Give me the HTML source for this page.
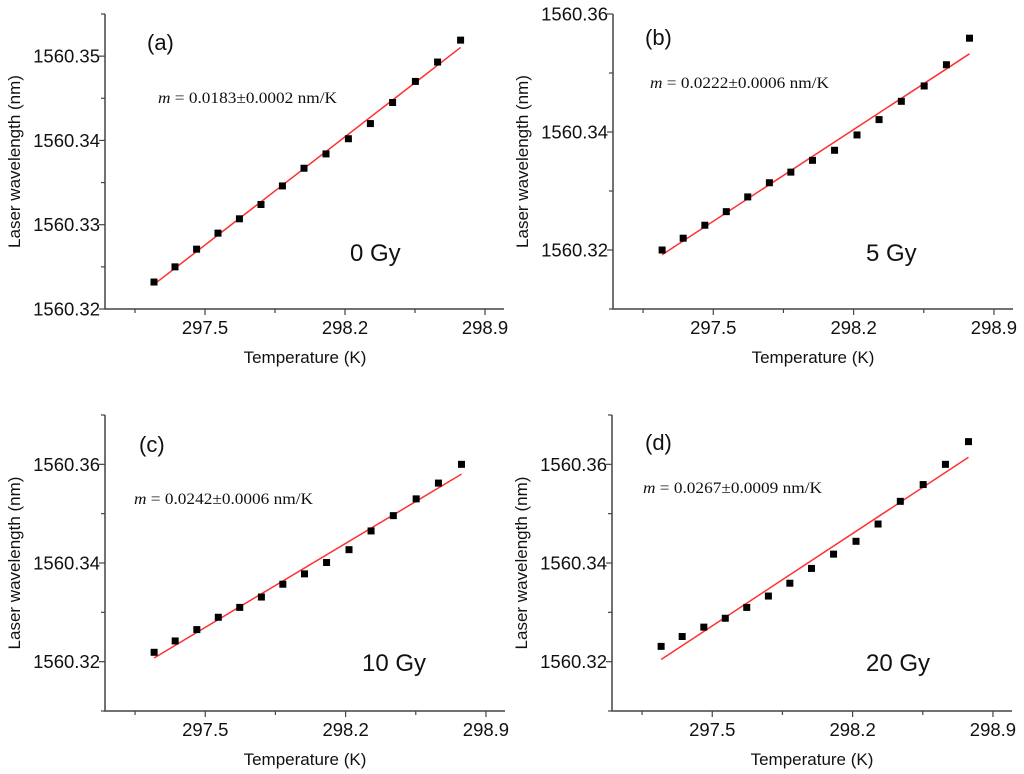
<!DOCTYPE html>
<html><head><meta charset="utf-8"><style>
html,body{margin:0;padding:0;background:#fff;}
svg{display:block;}
text{font-family:"Liberation Sans",Arial,sans-serif;fill:#111;}
.serif{font-family:"Liberation Serif","Times New Roman",serif;}
</style></head><body>
<svg id="fig" width="1024" height="774" viewBox="0 0 1024 774" xmlns="http://www.w3.org/2000/svg"></svg>
<script>
// Shared temperatures (K)
const temps = [297.245,297.35,297.458,297.565,297.672,297.78,297.887,297.995,298.105,298.217,298.327,298.438,298.552,298.663,298.778];
// Wavelength series (nm) per panel
const wlA = [1560.3232,1560.3250,1560.3271,1560.3290,1560.3307,1560.3324,1560.3346,1560.3367,1560.3384,1560.3402,1560.3420,1560.3445,1560.3470,1560.3493,1560.3519];
const wlB = [1560.3200,1560.3220,1560.3242,1560.3265,1560.3290,1560.3314,1560.3332,1560.3352,1560.3369,1560.3395,1560.3421,1560.3452,1560.3478,1560.3514,1560.3559];
const wlC = [1560.3219,1560.3242,1560.3265,1560.3290,1560.3310,1560.3331,1560.3357,1560.3378,1560.3401,1560.3427,1560.3465,1560.3496,1560.3530,1560.3562,1560.3600];
const wlD = [1560.3231,1560.3251,1560.3270,1560.3288,1560.3310,1560.3333,1560.3359,1560.3389,1560.3418,1560.3444,1560.3479,1560.3525,1560.3559,1560.3600,1560.3646];
// Tick labels
const xTickLabels = ["297.5","298.2","298.9"];
const yTickLabelsA = ["1560.32","1560.33","1560.34","1560.35"];
const yTickLabelsBCD = ["1560.32","1560.34","1560.36"];
const slopeTexts = ["0.0183±0.0002 nm/K","0.0222±0.0006 nm/K","0.0242±0.0006 nm/K","0.0267±0.0009 nm/K"];
const doseLabels = ["0 Gy","5 Gy","10 Gy","20 Gy"];
const panelLetters = ["(a)","(b)","(c)","(d)"];

const NS="http://www.w3.org/2000/svg";
const svg=document.getElementById('fig');
function mk(tag,attrs,parent){const e=document.createElementNS(NS,tag);for(const k in attrs)e.setAttribute(k,attrs[k]);(parent||svg).appendChild(e);return e;}

const panels=[
 {id:'a',L:105,T:14,R:504,B:309,ymin:1560.32,ymax:1560.355,ymaj:0.01,ylabels:yTickLabelsA,data:wlA,
  letter:[147,50],m:[158,103],dose:[350,261]},
 {id:'b',L:613,T:14,R:1013,B:309,ymin:1560.31,ymax:1560.36,ymaj:0.02,ylabels:yTickLabelsBCD,data:wlB,
  letter:[645,45],m:[650,88],dose:[866,261]},
 {id:'c',L:105,T:415,R:505,B:711,ymin:1560.31,ymax:1560.37,ymaj:0.02,ylabels:yTickLabelsBCD,data:wlC,
  letter:[139,452],m:[134,504],dose:[362,671]},
 {id:'d',L:612,T:415,R:1012,B:711,ymin:1560.31,ymax:1560.37,ymaj:0.02,ylabels:yTickLabelsBCD,data:wlD,
  letter:[645,450],m:[643,493],dose:[866,671]}
];
const xmin=297.0,xmax=298.995;

panels.forEach((p,pi)=>{
  const g=mk('g',{});
  
  
  const X=v=>p.L+(v-xmin)/(xmax-xmin)*(p.R-p.L);
  const Y=v=>p.B-(v-p.ymin)/(p.ymax-p.ymin)*(p.B-p.T);
  const ax=mk('path',{d:`M${p.L},${p.T}V${p.B}H${p.R}`,fill:'none',stroke:'#444','stroke-width':1.5},g);
  
  
  for(let i=0;i<6;i++){
    const v=297.15+0.35*i, x=X(v), major=i%2===1;
    mk('line',{x1:x,x2:x,y1:p.B,y2:p.B+(major?6:4),stroke:'#444','stroke-width':1.2},g);
    if(major){
      const t=mk('text',{x:x,y:p.B+25,'text-anchor':'middle','font-size':18.5},g);
      t.textContent=xTickLabels[(i-1)/2];
      
      
    }
  }
  const half=p.ymaj/2;
  for(let v=p.ymin;v<=p.ymax+1e-9;v+=half){
    const y=Y(v);
    const isMaj=p.ylabels.includes(v.toFixed(2)) && Math.abs(v-Math.round(v*100)/100)<1e-7;
    mk('line',{x1:p.L-(isMaj?6:4),x2:p.L,y1:y,y2:y,stroke:'#444','stroke-width':1.2},g);
    if(isMaj){
      const t=mk('text',{x:p.L-5,y:y+6.5,'text-anchor':'end','font-size':18.5},g);
      t.textContent=v.toFixed(2);
      
      
    }
  }
  const yt=mk('text',{x:0,y:0,'text-anchor':'middle','font-size':17,transform:`translate(${p.L-85},${(p.T+p.B)/2}) rotate(-90)`},g);
  yt.textContent='Laser wavelength (nm)';
  
  
  const xt=mk('text',{x:p.L+200,y:p.B+54,'text-anchor':'middle','font-size':17},g);
  xt.textContent='Temperature (K)';
  
  
  const n=temps.length;
  let sx=0,sy=0;for(let i=0;i<n;i++){sx+=temps[i];sy+=p.data[i];}
  const mx=sx/n,my=sy/n;let sxy=0,sxx=0;
  for(let i=0;i<n;i++){sxy+=(temps[i]-mx)*(p.data[i]-my);sxx+=(temps[i]-mx)**2;}
  const slope=sxy/sxx, b0=my-slope*mx;
  const x0=temps[0],x1=temps[n-1];
  const fl=mk('line',{x1:X(x0),y1:Y(b0+slope*x0),x2:X(x1),y2:Y(b0+slope*x1),stroke:'#ff3030','stroke-width':1.5},g);
  
  
  for(let i=0;i<n;i++){
    const r=mk('rect',{x:X(temps[i])-3.5,y:Y(p.data[i])-3.5,width:7,height:7,fill:'#000'},g);
    
    
  }
  const lt=mk('text',{x:p.letter[0],y:p.letter[1],'font-size':22},g);
  lt.textContent=panelLetters[pi];
  
  
  const mt=mk('text',{x:p.m[0],y:p.m[1],'font-size':15.5,class:'serif',textLength:179,lengthAdjust:'spacingAndGlyphs'},g);
  const mi=mk('tspan',{'font-style':'italic'},mt);mi.textContent='m';
  const mr=mk('tspan',{},mt);mr.textContent=' = '+slopeTexts[pi];
  
  
  const dt=mk('text',{x:p.dose[0],y:p.dose[1],'font-size':24},g);
  dt.textContent=doseLabels[pi];
  
  
});
</script>
</body></html>
